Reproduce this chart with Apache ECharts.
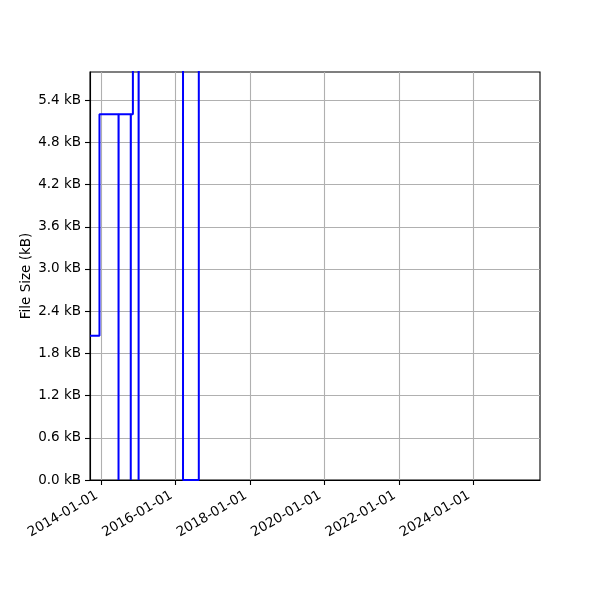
<!DOCTYPE html>
<html><head><meta charset="utf-8">
<script src="https://cdn.jsdelivr.net/npm/echarts@6/dist/echarts.min.js"></script>
<style>html,body{margin:0;padding:0;background:#fff}#c{width:600px;height:600px}</style>
</head><body><div id="c"></div>
<script>
// step-post data: file size (kB) over time
const dates = ['2013-09-12','2013-12-14','2014-06-19','2014-06-20','2014-10-17','2014-10-18','2014-11-07','2015-01-02','2015-01-03','2016-03-13','2016-08-15','2025-10-16'];
const sizesKB = [2.05, 5.2, 0, 5.2, 0, 5.2, 8.0, 0, 8.0, 0, 8.0, 8.0];
const xTickLabels = ['2014-01-01','2016-01-01','2018-01-01','2020-01-01','2022-01-01','2024-01-01'];
const yTicks = [0, 0.6, 1.2, 1.8, 2.4, 3.0, 3.6, 4.2, 4.8, 5.4];
const xRange = ['2013-09-12','2025-10-16'];
const yRange = [0, 5.8];

const ts = s => Date.parse(s + 'T00:00:00Z');
const pad = n => (n < 10 ? '0' : '') + n;
const fmtDate = v => { const d = new Date(v); return d.getUTCFullYear() + '-' + pad(d.getUTCMonth() + 1) + '-' + pad(d.getUTCDate()); };
const FONT = 'DejaVu Sans';

const chart = echarts.init(document.getElementById('c'), null, {renderer: 'canvas'});
chart.setOption({
  animation: false,
  backgroundColor: '#fff',
  grid: {left: 90, right: 60, top: 72, bottom: 120, show: true, borderColor: '#000', borderWidth: 1.1, backgroundColor: '#fff', containLabel: false},
  xAxis: {
    type: 'value',
    min: ts(xRange[0]), max: ts(xRange[1]),
    axisLine: {show: true, lineStyle: {color: '#000', width: 1.1}},
    axisTick: {show: true, length: 5, lineStyle: {color: '#000', width: 1.1}, customValues: xTickLabels.map(ts)},
    axisLabel: {customValues: xTickLabels.map(ts), rotate: 30, margin: 12, padding: [0, 5, 0, 0], color: '#000', fontFamily: FONT, fontSize: 13.5, formatter: v => fmtDate(v), hideOverlap: false},
    splitLine: {show: true, lineStyle: {color: '#b0b0b0', width: 1.1}}
  },
  yAxis: {
    type: 'value',
    min: yRange[0], max: yRange[1],
    name: 'File Size (kB)', nameLocation: 'middle', nameGap: 57, nameMoveOverlap: false,
    nameTextStyle: {color: '#000', fontFamily: FONT, fontSize: 13.5},
    axisLine: {show: true, lineStyle: {color: '#000', width: 1.1}},
    axisTick: {show: true, length: 5, lineStyle: {color: '#000', width: 1.1}, customValues: yTicks},
    axisLabel: {customValues: yTicks, margin: 9, color: '#000', fontFamily: FONT, fontSize: 13.5, formatter: v => v.toFixed(1) + ' kB'},
    splitLine: {show: true, lineStyle: {color: '#b0b0b0', width: 1.1}}
  },
  series: [{
    type: 'line',
    step: 'end',
    showSymbol: false,
    clip: true,
    lineStyle: {color: '#0000ff', width: 2},
    data: dates.map((d, i) => [ts(d), sizesKB[i]])
  }]
});
</script></body></html>
